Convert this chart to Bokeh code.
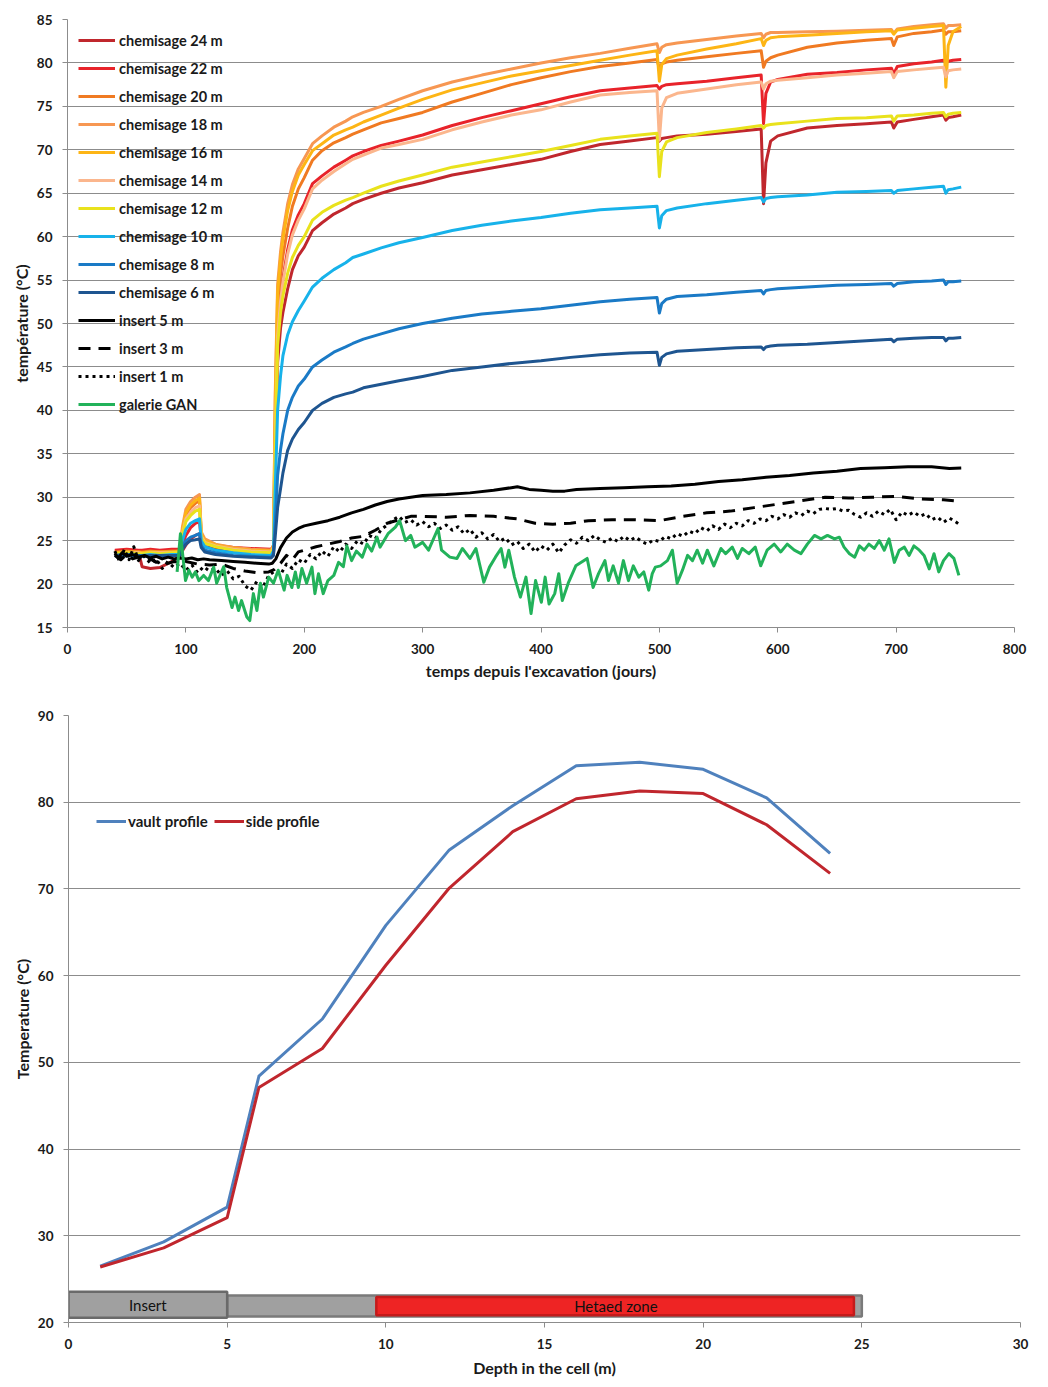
import numpy as np
from bokeh.plotting import figure
from bokeh.models import Legend, LegendItem, Range1d, FixedTicker
from bokeh.embed import file_html
from bokeh.resources import INLINE
from bokeh.core.properties import value

FONT = "Lato"

# ---------------- top chart data ----------------
ch_days = [40, 50, 60, 63, 70, 78, 88, 95,
           97, 100, 104, 108, 111.5, 113, 116,
           125, 140, 155, 172,
           174, 175.5, 177.5, 180, 182, 186, 190, 195, 200, 207, 215, 225, 235, 241, 250,
           265, 280, 300, 325, 350, 375, 400, 425, 450, 475, 498,
           500, 502, 506, 515,
           540, 565, 586, 588, 590, 594, 600,
           625, 650, 675, 696, 698, 701, 715, 730, 740, 742, 744, 748, 755]

ch24 = [23.8, 23.9, 23.7, 22.0, 21.8, 21.9, 22.6, 23.2,
        23.8, 24.5, 25.2, 25.6, 25.8, 24.6, 24.3,
        24.1, 23.9, 23.8, 23.8,
        24.0, 33.0, 45.5, 49.5, 51.3, 54.0, 56.2, 57.8, 58.8, 60.7, 61.6, 62.6, 63.3, 63.8, 64.3,
        65.0, 65.6, 66.2, 67.1, 67.7, 68.3, 68.9, 69.8, 70.6, 71.0, 71.4,
        71.0, 71.3, 71.4, 71.6,
        71.8, 72.1, 72.4, 63.8, 68.5, 71.0, 71.6,
        72.5, 72.8, 73.0, 73.2, 72.5, 73.2, 73.5, 73.8, 74.0, 73.4, 73.7, 73.8, 74.0]
ch22 = [23.9, 24.0, 23.9, 23.9, 24.0, 23.9, 24.0, 24.0,
        24.6, 25.6, 26.5, 27.0, 27.2, 25.2, 24.7,
        24.4, 24.2, 24.1, 24.0,
        24.3, 36.0, 49.0, 53.0, 55.2, 58.5, 60.8, 62.5, 63.8, 66.1, 67.0, 68.0, 68.8, 69.3, 69.8,
        70.5, 71.0, 71.7, 72.8, 73.7, 74.5, 75.3, 76.1, 76.8, 77.1, 77.4,
        77.0, 77.3, 77.5, 77.6,
        77.9, 78.3, 78.6, 73.0, 76.5, 77.8, 78.1,
        78.7, 78.9, 79.2, 79.4, 78.7, 79.6, 79.9, 80.1, 80.3, 80.0, 80.2, 80.3, 80.4]
ch20 = [23.7, 23.8, 23.7, 23.7, 23.8, 23.7, 23.8, 23.8,
        26.0, 27.9, 28.8, 29.3, 29.6, 25.7, 25.0,
        24.5, 24.2, 24.0, 23.9,
        24.4, 39.0, 51.5, 55.7, 57.8, 61.0, 63.5, 65.5, 66.8, 68.8, 69.9, 70.8, 71.4, 71.8, 72.3,
        73.1, 73.6, 74.3, 75.5, 76.5, 77.5, 78.3, 79.0, 79.6, 80.0, 80.4,
        79.3, 79.9, 80.1, 80.3,
        80.7, 81.1, 81.4, 79.5, 80.2, 80.6, 80.9,
        81.8, 82.3, 82.6, 82.8, 82.0, 83.0, 83.4, 83.6, 83.8, 83.3, 83.6, 83.6, 83.7]
ch18 = [23.6, 23.7, 23.6, 23.6, 23.7, 23.6, 23.7, 23.7,
        26.5, 28.6, 29.5, 30.0, 30.3, 26.0, 25.2,
        24.6, 24.2, 24.0, 23.9,
        24.5, 42.0, 54.5, 58.3, 60.5, 63.8, 66.0, 67.8, 69.0, 70.7, 71.6, 72.6, 73.3, 73.8, 74.3,
        75.0, 75.8, 76.8, 77.8, 78.6, 79.3, 80.0, 80.6, 81.1, 81.7, 82.2,
        81.2, 81.8, 82.1, 82.3,
        82.7, 83.1, 83.4, 82.9, 83.3, 83.5, 83.5,
        83.6, 83.65, 83.75, 83.85, 83.4, 83.9, 84.2, 84.4, 84.5, 84.0, 84.3, 84.3, 84.4]
ch16 = [23.6, 23.7, 23.7, 23.6, 23.7, 23.7, 23.7, 23.8,
        26.2, 28.2, 29.1, 29.6, 29.9, 25.8, 25.0,
        24.5, 24.1, 23.9, 23.8,
        24.4, 41.0, 53.5, 57.5, 59.8, 63.0, 65.2, 67.1, 68.3, 69.9, 70.7, 71.7, 72.3, 72.6, 73.2,
        74.0, 74.8, 75.8, 76.9, 77.7, 78.5, 79.1, 79.7, 80.3, 80.9, 81.4,
        77.9, 79.8, 80.5, 80.9,
        81.6, 82.2, 82.8, 82.0, 82.6, 82.9, 83.0,
        83.2, 83.4, 83.6, 83.7, 83.3, 83.8, 84.0, 84.2, 84.3, 77.2, 82.0, 83.6, 84.2]
ch14 = [23.5, 23.6, 23.6, 23.5, 23.6, 23.6, 23.6, 23.6,
        25.8, 27.5, 28.3, 28.8, 29.0, 25.5, 24.8,
        24.4, 24.0, 23.8, 23.7,
        24.2, 36.0, 48.5, 52.6, 54.8, 58.0, 60.2, 61.9, 63.2, 65.5, 66.5, 67.5, 68.4, 68.9, 69.4,
        70.2, 70.6, 71.2, 72.3, 73.2, 74.0, 74.6, 75.5, 76.3, 76.6, 76.8,
        71.1, 74.8, 76.0, 76.5,
        77.0, 77.5, 77.8, 77.0, 77.6, 77.9, 78.0,
        78.3, 78.6, 78.8, 79.0, 78.3, 79.0, 79.2, 79.4, 79.5, 78.4, 79.1, 79.2, 79.3]
ch12 = [23.5, 23.6, 23.5, 23.5, 23.6, 23.5, 23.6, 23.6,
        25.6, 27.2, 27.9, 28.4, 28.6, 25.3, 24.7,
        24.3, 23.9, 23.7, 23.6,
        24.1, 35.0, 47.5, 51.3, 53.2, 55.8, 57.6, 59.0, 60.0, 61.9, 62.8, 63.6, 64.2, 64.5, 65.0,
        65.8, 66.4, 67.1, 68.0, 68.6, 69.2, 69.8, 70.5, 71.2, 71.6, 71.9,
        66.9, 69.8, 70.9, 71.4,
        72.0, 72.4, 72.8, 72.5, 72.8, 72.9, 73.0,
        73.3, 73.6, 73.7, 73.9, 73.3, 73.9, 74.0, 74.2, 74.3, 73.8, 74.1, 74.2, 74.3]
ch10 = [23.3, 23.4, 23.3, 23.3, 23.4, 23.3, 23.4, 23.4,
        25.0, 26.3, 27.0, 27.3, 27.5, 25.0, 24.3,
        23.9, 23.6, 23.4, 23.3,
        23.8, 31.0, 40.0, 44.0, 46.3, 48.7, 50.2, 51.5, 52.6, 54.2, 55.2, 56.2, 57.0, 57.6, 58.0,
        58.7, 59.3, 59.9, 60.7, 61.3, 61.8, 62.2, 62.7, 63.1, 63.3, 63.5,
        61.0, 62.4, 63.0, 63.3,
        63.8, 64.2, 64.5, 64.0, 64.4, 64.5, 64.6,
        64.8, 65.1, 65.2, 65.3, 65.0, 65.3, 65.5, 65.7, 65.8, 65.0, 65.4, 65.5, 65.7]
ch8 = [23.2, 23.3, 23.2, 23.2, 23.3, 23.2, 23.3, 23.3,
       24.3, 25.0, 25.4, 25.6, 25.8, 24.4, 23.9,
       23.6, 23.3, 23.2, 23.1,
       23.5, 27.0, 32.5, 35.5, 37.3, 40.0, 41.5, 42.8, 43.6, 45.0, 45.8, 46.7, 47.3, 47.7, 48.2,
       48.8, 49.4, 50.0, 50.6, 51.1, 51.4, 51.7, 52.1, 52.5, 52.8, 53.0,
       51.2, 52.3, 52.8, 53.1,
       53.3, 53.6, 53.8, 53.4, 53.8, 53.9, 54.0,
       54.2, 54.4, 54.5, 54.6, 54.3, 54.6, 54.8, 54.9, 55.0, 54.5, 54.8, 54.8, 54.9]
ch6 = [23.3, 23.4, 23.3, 23.2, 23.3, 23.3, 23.3, 23.3,
       24.0, 24.6, 25.0, 25.1, 25.2, 24.2, 23.7,
       23.4, 23.2, 23.1, 23.0,
       23.3, 25.5, 28.8, 31.0, 32.8, 35.4, 36.7, 37.8, 38.6, 40.0, 40.8, 41.5, 41.9, 42.1, 42.6,
       43.0, 43.4, 43.9, 44.6, 45.0, 45.4, 45.7, 46.1, 46.4, 46.6, 46.7,
       45.2, 46.1, 46.5, 46.8,
       47.0, 47.2, 47.3, 47.0, 47.3, 47.4, 47.5,
       47.6, 47.8, 48.0, 48.2, 47.9, 48.2, 48.3, 48.4, 48.4, 48.0, 48.3, 48.3, 48.4]

ins5_days = [40, 43, 46, 50, 55, 60, 65, 70, 75, 80, 85, 90, 95, 100, 105, 110, 115, 120, 130, 140,
             150, 160, 170, 173, 176, 180, 185, 190, 195, 200, 210, 220, 230, 240, 250, 260, 270, 280,
             290, 300, 320, 340, 360, 375, 380, 390, 400, 410, 420, 430, 450, 470, 490, 510, 530, 550,
             570, 590, 610, 630, 650, 670, 690, 710, 730, 745, 755]
ins5 = [23.5, 23.0, 23.6, 23.2, 23.4, 23.1, 23.3, 23.0, 23.2, 22.9, 23.1, 22.9, 23.0, 22.9, 23.0,
        22.8, 22.9, 22.8, 22.7, 22.6, 22.5, 22.4, 22.3, 22.4, 22.9, 24.2, 25.3, 26.0, 26.4, 26.7,
        27.0, 27.3, 27.7, 28.2, 28.6, 29.1, 29.5, 29.8, 30.0, 30.2, 30.3, 30.5, 30.8, 31.1, 31.2,
        30.9, 30.8, 30.7, 30.7, 30.9, 31.0, 31.1, 31.2, 31.3, 31.5, 31.8, 32.0, 32.3, 32.5, 32.8,
        33.0, 33.3, 33.4, 33.5, 33.5, 33.3, 33.35]

ins3_days = [40, 45, 50, 55, 60, 65, 70, 75, 80, 85, 90, 95, 100, 110, 120, 130, 140, 150, 160, 170,
             175, 180, 185, 190, 195, 200, 210, 220, 230, 240, 250, 260, 270, 280, 290, 300, 320, 340,
             360, 380, 395, 410, 425, 440, 460, 480, 500, 520, 540, 560, 580, 600, 620, 640, 660, 680,
             700, 720, 740, 755]
ins3 = [23.3, 22.8, 23.4, 22.9, 23.1, 22.6, 22.9, 22.5, 22.8, 22.4, 22.6, 22.5, 22.6, 22.3, 22.2,
        22.3, 21.8, 21.5, 21.3, 21.4, 21.7, 22.4, 23.3, 22.8, 23.7, 23.9, 24.3, 24.6, 24.9, 25.3,
        25.5, 26.2, 27.0, 27.4, 27.8, 27.8, 27.7, 27.9, 27.8, 27.5, 27.0, 26.9, 27.0, 27.3, 27.4,
        27.4, 27.3, 27.8, 28.2, 28.4, 28.8, 29.2, 29.6, 30.0, 29.9, 30.0, 30.1, 29.8, 29.7, 29.5]

ins1_days = [40, 44, 48, 52, 56, 60] + list(range(65, 760, 5))
ins1 = [23.8, 22.6, 24.0, 22.8, 24.3, 22.7,
        23.2, 22.4, 22.9, 21.8, 22.5, 21.9, 22.4, 21.6, 22.2, 21.3,
        22.0, 21.5, 21.8, 21.0, 21.5, 20.6, 20.9, 19.8, 19.3, 20.3,
        19.6, 21.0, 21.5, 21.1, 22.3, 21.8, 22.8, 22.4, 23.4, 22.9,
        23.8, 23.2, 24.3, 23.7, 24.6, 24.1, 25.0, 24.6, 25.6, 25.2,
        26.3, 26.8, 27.4, 27.8, 27.1, 27.4, 26.8, 27.2, 26.6, 27.0,
        26.4, 26.8, 26.2, 26.6, 25.8, 26.3, 25.4, 25.9, 25.2, 25.7,
        24.9, 25.3, 24.5, 24.9, 24.1, 24.6, 23.7, 24.4, 23.9, 24.6,
        23.6, 24.5, 25.1, 24.7, 25.4, 25.0, 25.6, 25.1, 24.8, 25.3,
        24.9, 25.5, 25.0, 25.4, 24.9, 24.6, 25.1, 24.9, 25.5, 25.2,
        25.8, 25.5, 26.1, 25.8, 26.5, 26.1, 26.7, 26.3, 26.9, 26.5,
        27.0, 26.7, 27.3, 27.0, 27.5, 27.3, 27.8, 27.5, 28.0, 27.7,
        28.2, 27.9, 28.4, 28.1, 28.6, 28.7, 28.6, 28.7, 28.4, 28.5,
        28.0, 27.7, 28.2, 27.8, 28.4, 28.0, 28.6, 27.4, 28.3, 27.9,
        28.3, 27.8, 28.1, 27.4, 27.7, 27.1, 27.6, 27.2, 26.7]

gan_days = [92.6, 95.4, 99.7, 102.5, 105.3, 108, 111, 115, 119, 123.5, 126, 132, 134.5, 139, 141.5,
            144.5, 147, 151.5, 154, 157, 160, 163, 165.5, 170, 174, 178, 183, 185.5, 189.5, 192.5,
            195, 198, 202, 206.5, 209, 212, 216, 220, 225, 229, 233, 236, 240, 244, 249, 253, 257,
            261.5, 264, 270.8, 277, 280.6, 285.5, 290, 293.5, 300, 305, 313, 316, 323, 329, 333.6,
            340, 345, 351.7, 356.5, 361.5, 366.3, 369.5, 372.8, 377.6, 382.6, 387.3, 391.6, 395.4,
            400.3, 403.5, 406.8, 411.6, 415, 418, 423, 429.4, 439, 444, 448.6,
            454, 457, 461, 465.5, 469.6, 473.9, 478, 482.6, 486.8, 491, 494, 496.6, 501, 506.8, 511,
            515, 519.5, 523.8, 528, 532, 536.5, 540.5, 546, 552, 556, 561.6, 566, 570, 575.6, 581,
            585.6, 591, 597, 602.5, 608, 614, 619.6, 625, 631, 636.6, 642, 648, 652, 656, 660.6, 665,
            669, 673, 677, 681.5, 685.8, 690, 694, 698.5, 702.6, 707, 711, 715, 719.6, 723.6, 728,
            732, 736, 740, 744.6, 748.8, 753]
gan = [21.4, 25.8, 20.4, 21.6, 20.8, 21.4, 20.4, 21.0, 20.4, 21.95, 20.1, 22.0, 19.6, 17.3, 18.5,
       16.95, 18.1, 16.2, 15.8, 18.9, 16.95, 20.1, 18.5, 20.8, 20.1, 21.6, 19.3, 21.0, 19.6, 21.4,
       19.6, 21.8, 20.1, 21.95, 18.9, 21.2, 18.9, 20.4, 21.0, 22.5, 22.0, 24.4, 22.7, 23.8, 23.1,
       24.6, 23.8, 25.4, 24.25, 25.8, 26.55, 27.3, 25.0, 25.6, 24.25, 24.8, 23.9, 26.4, 23.9, 23.1,
       22.95, 24.1, 22.95, 24.1, 20.2, 21.95, 23.1, 24.1, 21.95, 23.9, 20.8, 18.5, 20.8, 16.6, 20.4,
       17.9, 20.8, 17.7, 18.9, 21.2, 18.1, 20.1, 22.1, 22.95, 19.6, 21.2,
       22.7, 20.4, 22.1, 20.1, 22.7, 20.4, 22.1, 20.8, 21.4, 19.3, 21.2, 21.95, 22.1, 22.7, 23.9,
       20.1, 21.6, 23.3, 22.7, 23.9, 22.4, 23.9, 22.1, 24.1, 23.5, 24.25, 22.95, 24.1, 23.5, 24.25,
       22.1, 23.9, 24.6, 23.7, 24.6, 23.9, 23.5, 24.6, 25.6, 25.2, 25.6, 25.2, 25.4, 24.25, 23.5,
       23.1, 24.4, 23.9, 24.6, 24.1, 25.0, 23.9, 25.2, 22.5, 23.9, 24.25, 23.3, 24.4, 23.9, 23.3,
       21.75, 23.5, 21.4, 22.7, 23.5, 22.95, 21.0]

top_x_ticks = [0, 100, 200, 300, 400, 500, 600, 700, 800]
top_y_ticks = [15, 20, 25, 30, 35, 40, 45, 50, 55, 60, 65, 70, 75, 80, 85]

# ---------------- bottom chart data ----------------
depth = [1, 3, 5, 6, 8, 10, 12, 14, 16, 18, 20, 22, 24]
vault = [26.5, 29.3, 33.3, 48.4, 55.0, 65.8, 74.5, 79.6, 84.2, 84.6, 83.8, 80.5, 74.1]
side = [26.4, 28.6, 32.1, 47.1, 51.6, 61.2, 70.1, 76.6, 80.4, 81.3, 81.0, 77.4, 71.8]

zone_left = [5, 0, 9.7]
zone_right = [25, 5, 24.75]
zone_bottom = [20.7, 20.55, 20.85]
zone_top = [23.1, 23.55, 22.95]
zone_fill = ["#A0A0A0", "#A0A0A0", "#EE2424"]
zone_line = ["#7A7A7A", "#6A6A6A", "#C41A1A"]
zone_label_x = [2.5, 17.25]
zone_label_y = [22.05, 21.9]
zone_labels = ["Insert", "Hetaed zone"]

bot_x_ticks = [0, 5, 10, 15, 20, 25, 30]
bot_y_ticks = [20, 30, 40, 50, 60, 70, 80, 90]

GRID = "#8c8c8c"


def style(p, title_standoff_x):
    p.outline_line_color = None
    p.xgrid.visible = False
    p.ygrid.grid_line_color = GRID
    p.ygrid.grid_line_width = 1
    for ax in (p.xaxis, p.yaxis):
        ax.axis_line_color = GRID
        ax.major_tick_line_color = GRID
        ax.minor_tick_line_color = None
        ax.major_tick_out = 5
        ax.major_tick_in = 0
        ax.major_label_text_font = FONT
        ax.major_label_text_font_style = "bold"
        ax.major_label_text_font_size = "13.5px"
        ax.major_label_text_color = "#1a1a1a"
        ax.axis_label_text_font = FONT
        ax.axis_label_text_font_style = "bold"
        ax.axis_label_text_font_size = "16px"
        ax.axis_label_text_color = "#1a1a1a"
    p.xaxis.major_label_standoff = 11
    p.yaxis.major_label_standoff = 10
    p.xaxis.axis_label_standoff = title_standoff_x
    p.yaxis.axis_label_standoff = 3


# ---------------- top figure ----------------
p1 = figure(width=1048, height=692, output_backend="svg", toolbar_location=None,
            x_range=Range1d(0, 800), y_range=Range1d(15, 85),
            min_border_left=67, min_border_right=34, min_border_top=19, min_border_bottom=65)
style(p1, 4)
p1.xaxis.ticker = FixedTicker(ticks=top_x_ticks)
p1.yaxis.ticker = FixedTicker(ticks=top_y_ticks)
p1.xaxis.axis_label = "temps depuis l'excavation (jours)"
p1.yaxis.axis_label = "température (°C)"

series = [
    ("chemisage 24 m", ch_days, ch24, "#C0272D", None),
    ("chemisage 22 m", ch_days, ch22, "#E8232A", None),
    ("chemisage 20 m", ch_days, ch20, "#F07A22", None),
    ("chemisage 18 m", ch_days, ch18, "#F79752", None),
    ("chemisage 16 m", ch_days, ch16, "#FDB515", None),
    ("chemisage 14 m", ch_days, ch14, "#FBB68D", None),
    ("chemisage 12 m", ch_days, ch12, "#E9E21C", None),
    ("chemisage 10 m", ch_days, ch10, "#17B2EA", None),
    ("chemisage 8 m", ch_days, ch8, "#1A7AC6", None),
    ("chemisage 6 m", ch_days, ch6, "#1E5590", None),
    ("insert 5 m", ins5_days, ins5, "#000000", None),
    ("insert 3 m", ins3_days, ins3, "#000000", "12 8"),
    ("insert 1 m", ins1_days, ins1, "#000000", "3 4"),
    ("galerie GAN", gan_days, gan, "#22B25A", None),
]

items = []
for label, xs, ys, color, dash in series:
    kw = dict(line_color=color, line_width=3, line_join="round")
    if dash:
        kw["line_dash"] = dash
    r = p1.line(xs, ys, **kw)
    items.append(LegendItem(label=label, renderers=[r]))

leg1 = Legend(items=items, location="top_left", margin=11, padding=0,
              glyph_width=37, glyph_height=20, label_height=20, spacing=8,
              label_standoff=4, label_text_font=FONT, label_text_font_size="14.5px",
              label_text_font_style="bold", label_text_color="#1a1a1a",
              background_fill_alpha=0, border_line_color=None)
p1.add_layout(leg1)

# ---------------- bottom figure ----------------
p2 = figure(width=1048, height=695, output_backend="svg", toolbar_location=None,
            x_range=Range1d(0, 30), y_range=Range1d(20, 90),
            min_border_left=68, min_border_right=28, min_border_top=23, min_border_bottom=65)
style(p2, 6)
p2.xaxis.ticker = FixedTicker(ticks=bot_x_ticks)
p2.yaxis.ticker = FixedTicker(ticks=bot_y_ticks)
p2.xaxis.axis_label = "Depth in the cell (m)"
p2.yaxis.axis_label = "Temperature (°C)"

p2.quad(left=zone_left, right=zone_right, bottom=zone_bottom, top=zone_top,
        fill_color=zone_fill, line_color=zone_line, line_width=2.5)
p2.text(x=zone_label_x, y=zone_label_y, text=zone_labels, text_align="center",
        text_baseline="middle", text_font=value(FONT), text_font_size="15px",
        text_color="#111111")

rv = p2.line(depth, vault, line_color="#4F81BD", line_width=3, line_join="round")
rs = p2.line(depth, side, line_color="#C0262D", line_width=3, line_join="round")

leg2 = Legend(items=[LegendItem(label="vault profile", renderers=[rv]),
                     LegendItem(label="side profile", renderers=[rs])],
              orientation="horizontal", location=(28, 491), padding=0, margin=0,
              glyph_width=30, glyph_height=20, label_height=20, spacing=6,
              label_standoff=2, label_text_font=FONT, label_text_font_size="15px",
              label_text_font_style="bold", label_text_color="#1a1a1a",
              background_fill_alpha=0, border_line_color=None)
p2.add_layout(leg2)

# two independent roots so the plot frames are not forced to align
open("out.html", "w").write(file_html([p1, p2], INLINE))
